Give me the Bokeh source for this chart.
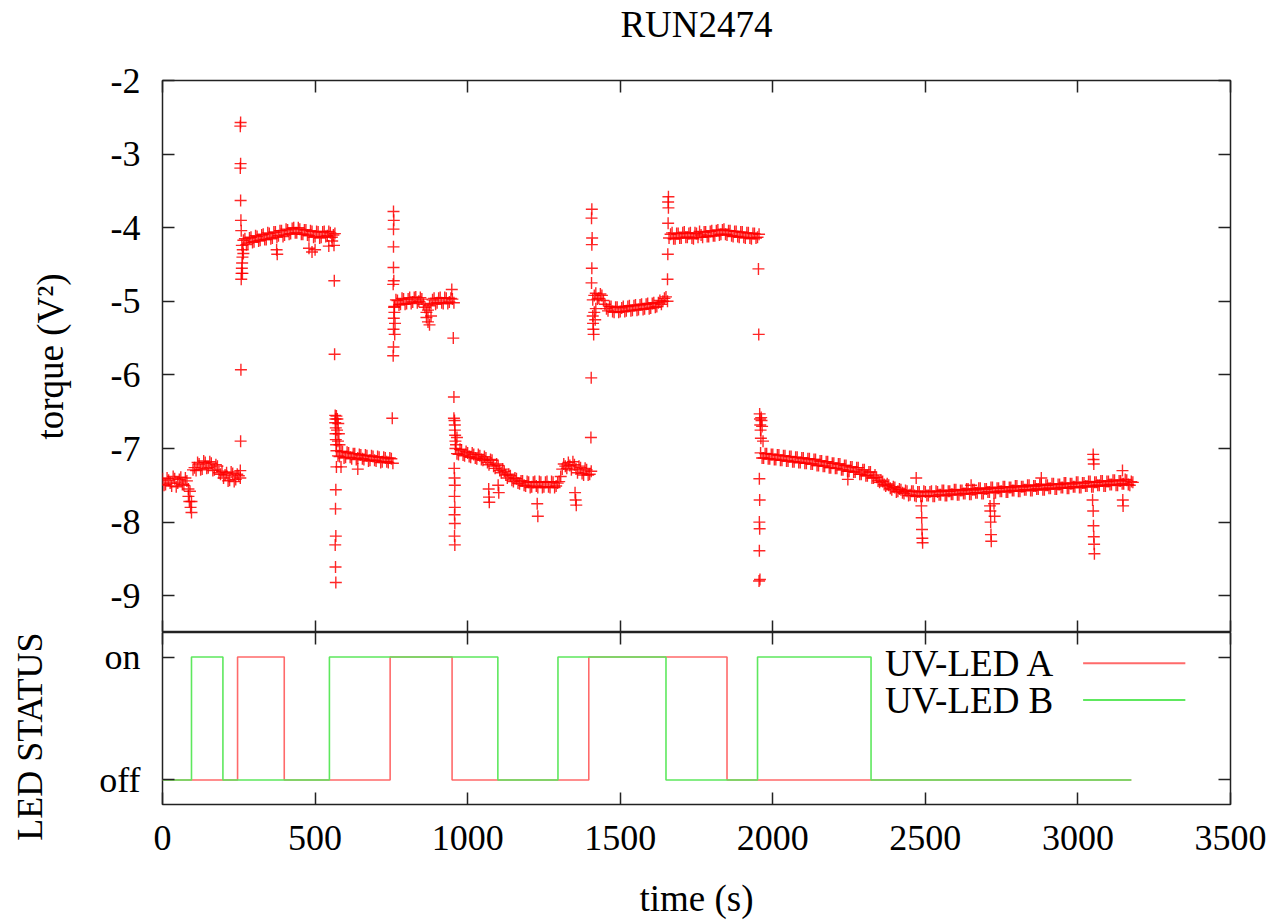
from bokeh.plotting import figure
from bokeh.layouts import column
from bokeh.models import FixedTicker, LinearAxis, Range1d, Label, Arrow, Title
from bokeh.embed import file_html
from bokeh.resources import INLINE

# ---------------- data ----------------
title_text = "RUN2474"
x_label = "time (s)"
torque_label = "torque (V\u00b2)"
status_label = "LED STATUS"
x_ticks = [0, 500, 1000, 1500, 2000, 2500, 3000, 3500]
torque_ticks = [-9, -8, -7, -6, -5, -4, -3, -2]
status_ticks = [0, 1]
status_names = {0: "off", 1: "on"}

sample_step = 10  # s between torque samples
seg_start = [0, 260, 570, 760, 960, 1410, 1660, 1960]
seg_start_b = [5, 265, 575, 765, 965, 1415, 1665, 1965]

torque_seg1 = [-7.41, -7.49, -7.43, -7.51, -7.41, -7.47, -7.39, -7.50, -7.44, -7.58,
               -7.29, -7.30, -7.21, -7.28, -7.19, -7.26, -7.20, -7.29, -7.24, -7.35,
               -7.40, -7.33, -7.43, -7.34, -7.42, -7.37]
torque_seg2 = [-4.24, -4.15, -4.21, -4.13, -4.19, -4.12, -4.17, -4.09, -4.16, -4.08,
               -4.14, -4.06, -4.11, -4.04, -4.10, -4.03, -4.08, -4.00, -4.07, -4.02,
               -4.09, -4.03, -4.11, -4.05, -4.12, -4.06, -4.13, -4.05, -4.11, -4.07, -4.10]
torque_seg3 = [-7.03, -7.11, -7.04, -7.12, -7.06, -7.14, -7.07, -7.13, -7.09, -7.15,
               -7.10, -7.16, -7.11, -7.17, -7.12, -7.18, -7.13, -7.19, -7.14]
torque_seg4 = [-5.07, -4.99, -5.04, -4.97, -5.03, -4.95, -5.01, -4.94, -5.00, -4.97,
               -5.08, -5.12, -5.03, -4.96, -5.02, -4.95, -5.03, -4.96, -5.01, -4.97]
torque_seg5 = [-7.00, -7.08, -7.02, -7.10, -7.06, -7.12, -7.08, -7.14, -7.10, -7.16,
               -7.13, -7.22, -7.16, -7.27, -7.23, -7.33, -7.31, -7.40, -7.37, -7.45,
               -7.41, -7.48, -7.44, -7.51, -7.46, -7.52, -7.45, -7.53, -7.46, -7.52,
               -7.45, -7.53, -7.46, -7.51, -7.45, -7.28, -7.24, -7.19, -7.29, -7.22,
               -7.33, -7.26, -7.36, -7.29, -7.35]
torque_seg6 = [-4.98, -4.89, -4.96, -4.92, -5.04, -5.13, -5.07, -5.15, -5.08, -5.14,
               -5.07, -5.13, -5.06, -5.12, -5.05, -5.11, -5.04, -5.10, -5.03, -5.09,
               -5.02, -5.07, -4.99, -5.00, -4.94]
torque_seg7 = [-4.14, -4.07, -4.15, -4.08, -4.14, -4.06, -4.13, -4.07, -4.15, -4.08,
               -4.05, -4.13, -4.06, -4.12, -4.04, -4.11, -4.03, -4.09, -4.02, -4.10,
               -4.04, -4.12, -4.05, -4.13, -4.06, -4.14, -4.07, -4.15, -4.08, -4.13]
torque_seg8 = [-7.06, -7.13, -7.07, -7.14, -7.08, -7.15, -7.09, -7.16, -7.10, -7.17,
               -7.11, -7.18, -7.12, -7.19, -7.13, -7.20, -7.14, -7.21, -7.15, -7.23,
               -7.17, -7.24, -7.18, -7.26, -7.20, -7.27, -7.21, -7.29, -7.23, -7.31,
               -7.25, -7.32, -7.26, -7.35, -7.29, -7.37, -7.32, -7.40, -7.39, -7.46,
               -7.45, -7.51, -7.50, -7.56, -7.53, -7.58, -7.56, -7.61, -7.58, -7.63,
               -7.58, -7.65, -7.59, -7.65, -7.59, -7.64, -7.58, -7.65, -7.59, -7.63,
               -7.57, -7.64, -7.58, -7.62, -7.56, -7.63, -7.57, -7.61, -7.55, -7.62,
               -7.56, -7.60, -7.54, -7.61, -7.55, -7.59, -7.53, -7.60, -7.54, -7.58,
               -7.52, -7.59, -7.53, -7.57, -7.51, -7.58, -7.52, -7.56, -7.50, -7.57,
               -7.51, -7.55, -7.49, -7.56, -7.50, -7.54, -7.48, -7.55, -7.49, -7.53,
               -7.47, -7.54, -7.48, -7.52, -7.46, -7.53, -7.47, -7.51, -7.45, -7.52,
               -7.46, -7.50, -7.44, -7.51, -7.45, -7.49, -7.43, -7.50, -7.44, -7.48,
               -7.43, -7.50, -7.46]

# second reading of each plateau, 5 s later
torque_seg1b = [-7.50, -7.40, -7.47, -7.38, -7.52, -7.42, -7.49, -7.40, -7.55, -7.72,
                -7.26, -7.19, -7.29, -7.17, -7.27, -7.18, -7.30, -7.22, -7.33, -7.31,
                -7.36, -7.44, -7.32, -7.45, -7.35, -7.40]
torque_seg2b = [-4.17, -4.23, -4.14, -4.20, -4.11, -4.18, -4.10, -4.16, -4.07, -4.15,
                -4.06, -4.13, -4.04, -4.12, -4.02, -4.09, -4.01, -4.07, -4.00, -4.09,
                -4.03, -4.10, -4.04, -4.13, -4.05, -4.14, -4.06, -4.12, -4.05, -4.13, -4.08]
torque_seg3b = [-7.10, -7.04, -7.13, -7.05, -7.12, -7.07, -7.15, -7.08, -7.14, -7.09,
                -7.17, -7.10, -7.16, -7.11, -7.19, -7.12, -7.18, -7.13, -7.20]
torque_seg4b = [-4.98, -5.05, -4.96, -5.04, -4.97, -5.03, -4.95, -5.02, -4.95, -5.04,
                -5.15, -5.06, -4.98, -5.04, -4.96, -5.02, -4.95, -5.03, -4.96, -5.02]
torque_seg5b = [-7.07, -7.01, -7.09, -7.04, -7.11, -7.06, -7.13, -7.08, -7.15, -7.11,
                -7.19, -7.15, -7.24, -7.21, -7.30, -7.28, -7.36, -7.35, -7.43, -7.40,
                -7.47, -7.44, -7.50, -7.45, -7.53, -7.46, -7.51, -7.45, -7.53, -7.46,
                -7.52, -7.45, -7.53, -7.47, -7.38, -7.21, -7.27, -7.23, -7.18, -7.28,
                -7.24, -7.34, -7.27, -7.36, -7.31]
torque_seg6b = [-4.92, -4.97, -4.90, -4.99, -5.10, -5.07, -5.14, -5.08, -5.15, -5.09,
                -5.14, -5.07, -5.13, -5.06, -5.12, -5.05, -5.11, -5.04, -5.10, -5.03,
                -5.08, -5.02, -5.04, -4.96, -5.00]
torque_seg7b = [-4.09, -4.15, -4.08, -4.14, -4.07, -4.13, -4.08, -4.14, -4.07, -4.13,
                -4.10, -4.06, -4.12, -4.05, -4.11, -4.04, -4.10, -4.03, -4.09, -4.04,
                -4.11, -4.05, -4.12, -4.06, -4.13, -4.07, -4.14, -4.08, -4.14, -4.09]
torque_seg8b = [-7.13, -7.07, -7.14, -7.08, -7.15, -7.09, -7.16, -7.10, -7.17, -7.11,
                -7.18, -7.12, -7.19, -7.13, -7.20, -7.14, -7.21, -7.15, -7.23, -7.17,
                -7.24, -7.18, -7.26, -7.20, -7.27, -7.21, -7.29, -7.23, -7.31, -7.25,
                -7.32, -7.26, -7.35, -7.29, -7.37, -7.32, -7.40, -7.36, -7.44, -7.43,
                -7.49, -7.48, -7.54, -7.52, -7.59, -7.55, -7.60, -7.57, -7.64, -7.58,
                -7.64, -7.59, -7.65, -7.58, -7.64, -7.59, -7.65, -7.58, -7.63, -7.57,
                -7.64, -7.58, -7.62, -7.56, -7.63, -7.57, -7.61, -7.55, -7.62, -7.56,
                -7.60, -7.54, -7.61, -7.55, -7.59, -7.53, -7.60, -7.54, -7.58, -7.52,
                -7.59, -7.53, -7.57, -7.51, -7.58, -7.52, -7.56, -7.50, -7.57, -7.51,
                -7.55, -7.49, -7.56, -7.50, -7.54, -7.48, -7.55, -7.49, -7.53, -7.47,
                -7.54, -7.48, -7.52, -7.46, -7.53, -7.47, -7.51, -7.45, -7.52, -7.46,
                -7.50, -7.44, -7.51, -7.45, -7.49, -7.43, -7.50, -7.44, -7.48, -7.42,
                -7.49, -7.45]

# isolated samples during the switching transients and dips
outlier_t = [85, 88, 92, 95,
             255, 256, 257, 258, 259, 260, 261, 262, 258, 257, 256, 255, 256, 255, 256, 263, 265, 262,
             374, 376, 480, 490, 500, 545, 556,
             562, 563, 564, 566, 567, 566, 568, 567, 568, 569, 570, 568, 567, 568, 566, 567, 568,
             570, 573, 576, 572, 578, 575, 580,
             585, 640,
             753, 756, 757, 757, 758, 759, 756, 758, 757, 757, 757, 758, 757, 760, 762, 761,
             865, 870, 875, 880,
             948, 953, 955, 955, 957, 958, 958, 959, 960, 956, 957, 958, 957, 958, 957, 958, 957, 958,
             962, 965,
             1069, 1070, 1071, 1100, 1102, 1228, 1230, 1352, 1354, 1356,
             1404, 1405, 1406, 1407, 1407, 1408, 1406, 1407,
             1410, 1411, 1412, 1413, 1415, 1418, 1420,
             1655, 1656, 1657, 1658, 1657, 1658,
             1953, 1954, 1957, 1958, 1959, 1960, 1961, 1962, 1956, 1957, 1956, 1957, 1956, 1955, 1958,
             1965, 1968, 1963,
             2246, 2470, 2487, 2488, 2489, 2490, 2491, 2712, 2713, 2714, 2715, 2716, 2725, 2727,
             3050, 3051, 3052, 3048, 3050, 3051, 3052, 3053, 3054, 3146, 3147, 3148, 2650, 2880]
outlier_v = [-7.65, -7.72, -7.80, -7.87,
             -7.30, -6.90, -5.93, -4.70, -4.62, -4.55, -4.48, -4.40, -4.04, -3.90, -3.63, -3.19, -3.13, -2.62, -2.57, -4.30, -4.35, -4.62,
             -4.30, -4.36, -4.28, -4.33, -4.30, -4.25, -4.18,
             -4.24, -4.72, -5.72, -6.55, -6.60, -6.65, -6.72, -6.80, -6.88, -6.95, -7.25, -7.56, -7.82, -8.19, -8.31, -8.61, -8.82,
             -6.56, -6.60, -6.66, -6.75, -6.80, -6.90, -6.95,
             -7.25, -7.28,
             -6.59, -5.74, -5.62, -5.38, -5.23, -5.08, -4.77, -4.72, -4.54, -4.26, -4.02, -3.90, -3.78, -5.15, -5.30, -5.45,
             -5.22, -5.28, -5.32, -5.20,
             -4.84, -5.50, -6.30, -6.59, -6.62, -6.68, -6.75, -6.82, -6.90, -7.27, -7.40, -7.50, -7.65, -7.80, -7.90, -8.02, -8.19, -8.31,
             -6.95, -6.85,
             -7.55, -7.66, -7.73, -7.50, -7.60, -7.75, -7.92, -7.60, -7.70, -7.77,
             -6.85, -6.04, -4.75, -4.55, -4.23, -4.14, -3.87, -3.75,
             -5.20, -5.30, -5.38, -5.45, -5.15, -5.25, -5.10,
             -4.70, -4.36, -3.94, -3.73, -3.65, -3.58,
             -4.56, -5.45, -6.53, -6.60, -6.68, -6.75, -6.86, -6.58, -7.41, -7.70, -8.00, -8.09, -8.39, -8.80, -8.78,
             -6.70, -6.90, -6.62,
             -7.42, -7.40, -7.78, -7.94, -8.10, -8.22, -8.28, -7.78, -7.85, -8.00, -8.17, -8.26, -7.75, -7.92,
             -7.08, -7.15, -7.21, -7.70, -7.85, -8.05, -8.20, -8.30, -8.43, -7.30, -7.70, -7.78, -7.50, -7.40]

led_a_t = [0, 246, 399, 746, 949, 1397, 1850, 3175]
led_a_state = [0, 1, 0, 1, 0, 1, 0, 0]
led_b_t = [0, 95, 198, 547, 1099, 1296, 1650, 1950, 2322, 3175]
led_b_state = [0, 1, 0, 1, 0, 1, 0, 1, 0, 0]
legend_names = ["UV-LED A", "UV-LED B"]

# ---------------- assemble torque samples ----------------
segments = [torque_seg1, torque_seg2, torque_seg3, torque_seg4,
            torque_seg5, torque_seg6, torque_seg7, torque_seg8]
segments_b = [torque_seg1b, torque_seg2b, torque_seg3b, torque_seg4b,
              torque_seg5b, torque_seg6b, torque_seg7b, torque_seg8b]
torque_t, torque_v = [], []
for starts, segs in ((seg_start, segments), (seg_start_b, segments_b)):
    for start, seg in zip(starts, segs):
        torque_t += [start + sample_step * i for i in range(len(seg))]
        torque_v += seg
torque_t += outlier_t
torque_v += outlier_v

# ---------------- styling helpers ----------------
FONT = "Liberation Serif"
TICK_COLOR = "#222222"
RED = "#ff0000"
LINE_RED = "#ff6a6a"
LINE_GREEN = "#5ee85e"


def style_axis(ax, ticks, show_labels, standoff=22):
    ax.ticker = FixedTicker(ticks=ticks)
    ax.axis_line_color = None
    ax.major_tick_in = 12
    ax.major_tick_out = 0
    ax.major_tick_line_color = TICK_COLOR
    ax.major_tick_line_width = 1.5
    ax.minor_tick_line_color = None
    if show_labels:
        ax.major_label_text_font = FONT
        ax.major_label_text_font_size = "36px"
        ax.major_label_text_color = "black"
        ax.major_label_standoff = standoff
    else:
        ax.major_label_text_color = None
        ax.major_label_text_alpha = 0
        ax.major_label_text_font_size = "1px"
        ax.major_label_standoff = 0
    ax.axis_label_text_font = FONT
    ax.axis_label_text_font_size = "37px"
    ax.axis_label_text_font_style = "normal"
    ax.axis_label_text_color = "black"


def base_fig(frame_h, y_range, top, bottom, x_range=None):
    p = figure(frame_width=1068, frame_height=frame_h,
               min_border_left=162, min_border_right=40,
               min_border_top=top, min_border_bottom=bottom,
               x_range=x_range if x_range is not None else Range1d(0, 3500),
               y_range=y_range, output_backend="svg",
               toolbar_location=None, tools="")
    p.grid.visible = False
    p.outline_line_color = TICK_COLOR
    p.outline_line_width = 1.5
    p.background_fill_color = "white"
    p.border_fill_color = "white"
    return p


# ---------------- top panel: torque ----------------
p1 = base_fig(552, Range1d(-9.5, -2), 79, 0)
p1.scatter(torque_t, torque_v, marker="cross", size=12,
           line_color=RED, line_width=1.4, line_alpha=0.85)

style_axis(p1.xaxis[0], x_ticks, False)
style_axis(p1.yaxis[0], torque_ticks, True)
p1.yaxis[0].major_label_overrides = {t: "%d" % t for t in torque_ticks}
p1.yaxis[0].axis_label = torque_label
p1.yaxis[0].axis_label_standoff = 37
ax_r = LinearAxis()
style_axis(ax_r, torque_ticks, False)
p1.add_layout(ax_r, "right")
ax_t = LinearAxis()
style_axis(ax_t, x_ticks, False)
# the plot title sits on the mirrored top axis, centred over the frame
ax_t.axis_label = title_text
ax_t.axis_label_standoff = 36
p1.add_layout(ax_t, "above")

# ---------------- bottom panel: LED status ----------------
p2 = base_fig(172, Range1d(-0.2, 1.2), 0, 116, x_range=p1.x_range)
p2.step(led_a_t, led_a_state, mode="after", line_color=LINE_RED,
        line_width=1.6)
p2.step(led_b_t, led_b_state, mode="after", line_color=LINE_GREEN,
        line_width=1.6)

style_axis(p2.xaxis[0], x_ticks, True, standoff=21)
p2.xaxis[0].axis_label = x_label
p2.xaxis[0].axis_label_standoff = 25
style_axis(p2.yaxis[0], status_ticks, True)
# non-breaking padding widens the label column so the panel title sits further left
p2.yaxis[0].major_label_overrides = {0: "\u00a0" * 5 + status_names[0],
                                     1: status_names[1]}
ax_r2 = LinearAxis()
style_axis(ax_r2, status_ticks, False)
p2.add_layout(ax_r2, "right")
ax_t2 = LinearAxis()
style_axis(ax_t2, x_ticks, False)
p2.add_layout(ax_t2, "above")

# vertical title of the status panel, kept inside this panel's canvas
p2.add_layout(Title(text=status_label, align="right", text_font=FONT,
                    text_font_size="36px", text_font_style="normal",
                    text_color="black", standoff=4), "left")

# key (gnuplot style: text, then sample line)
for name, color, y_key in [(legend_names[0], LINE_RED, 0.95),
                           (legend_names[1], LINE_GREEN, 0.65)]:
    p2.add_layout(Label(x=2368, y=y_key, text=name, text_font=FONT,
                        text_font_size="37px", text_color="black",
                        text_baseline="middle"))
    p2.add_layout(Arrow(end=None, x_start=3017, x_end=3352, y_start=y_key,
                        y_end=y_key, line_color=color, line_width=2))

layout = column(p1, p2, spacing=0)
open("out.html", "w").write(file_html(layout, INLINE))
